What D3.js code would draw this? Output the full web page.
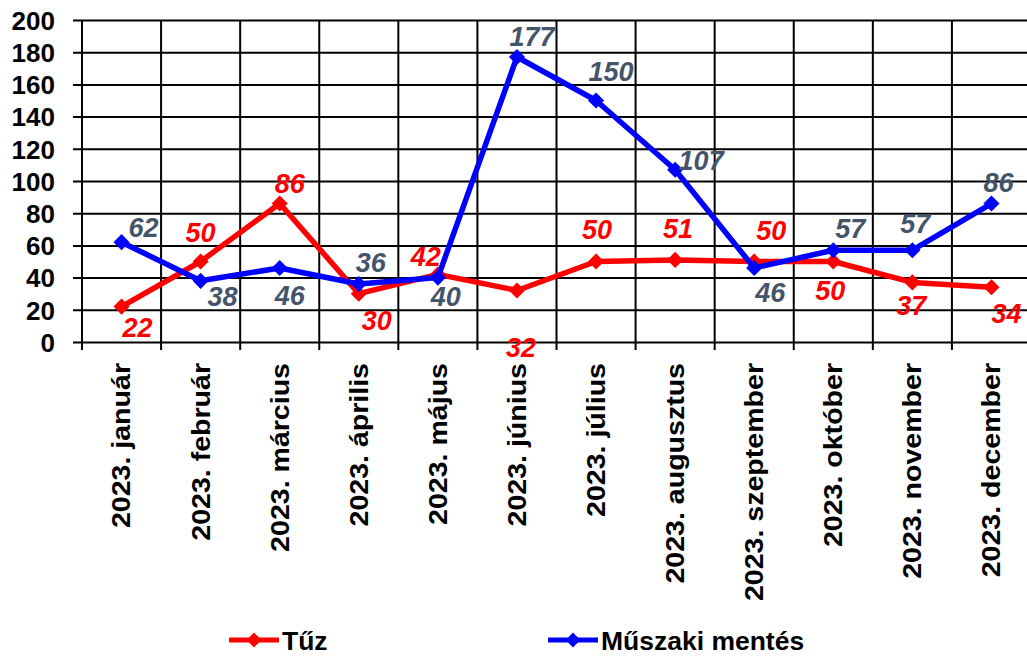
<!DOCTYPE html>
<html>
<head>
<meta charset="utf-8">
<script src="https://cdn.jsdelivr.net/npm/d3@7/dist/d3.min.js"></script>
<style>
  html, body { margin: 0; padding: 0; background: #fff; }
  svg { display: block; }
  text { font-family: "Liberation Sans", Arial, sans-serif; }
</style>
</head>
<body>
<svg id="chart" width="1027" height="657"></svg>
<script>
// ---- data ----
const categories = ["2023. január", "2023. február", "2023. március", "2023. április", "2023. május", "2023. június",
  "2023. július", "2023. augusztus", "2023. szeptember", "2023. október", "2023. november", "2023. december"];
const tuzValues = [22, 50, 86, 30, 42, 32, 50, 51, 50, 50, 37, 34];
const muszakiValues = [62, 38, 46, 36, 40, 177, 150, 107, 46, 57, 57, 86];
const yTicks = [0, 20, 40, 60, 80, 100, 120, 140, 160, 180, 200];
const seriesNames = ["Tűz", "Műszaki mentés"];

// ---- layout (label offsets relative to each point: [dx, dy] of text baseline centre) ----
const tuzLabelOffsets = [[16, 30], [0, -20], [10, -11], [18, 36], [-12, -8], [4, 67],
  [1, -23], [3, -22], [17, -22], [-3, 38], [-1, 33], [15, 36]];
const muszakiLabelOffsets = [[22, -5], [22, 25], [10, 37], [12, -12], [8, 28], [15, -11],
  [15, -20], [26, 0], [16, 34], [17, -12], [3, -17], [7, -12]];

const svg = d3.select("#chart");
const plotLeft = 82, plotRight = 1031, plotTop = 20, plotBottom = 342;

const x = d3.scaleBand().domain(categories).range([plotLeft, plotRight]).padding(0);
const y = d3.scaleLinear().domain([0, 200]).range([plotBottom, plotTop]);

// horizontal grid + y tick labels
const yAxis = d3.axisLeft(y).tickValues(yTicks).tickSize(plotRight - 73).tickPadding(18).tickFormat(d3.format("d"));
const gy = svg.append("g").attr("transform", `translate(${plotRight},0)`).call(yAxis);
gy.select(".domain").remove();
gy.selectAll(".tick line").attr("stroke", "#000").attr("stroke-width", 2);
gy.selectAll(".tick text")
  .attr("fill", "#000")
  .style("font-size", "26px")
  .style("font-weight", "bold")
  .attr("dy", "0.36em");

// vertical grid lines at band boundaries
const bounds = categories.map(c => x(c)).concat([x(categories[categories.length - 1]) + x.bandwidth()]);
svg.append("g").selectAll("line").data(bounds).join("line")
  .attr("x1", d => d).attr("x2", d => d)
  .attr("y1", plotTop).attr("y2", plotBottom + 8)
  .attr("stroke", "#000").attr("stroke-width", 2);

// category labels
const xAxis = d3.axisBottom(x).tickSize(0);
const gx = svg.append("g").attr("transform", `translate(0,${plotBottom})`).call(xAxis);
gx.select(".domain").remove();
gx.selectAll(".tick text")
  .attr("fill", "#000")
  .attr("x", 0).attr("y", 0).attr("dy", "0.35em")
  .attr("text-anchor", "end")
  .attr("transform", "translate(0,21) rotate(-90) scale(1.12,1)")
  .style("font-size", "25.5px")
  .style("font-weight", "bold");

// series
const series = [
  { name: seriesNames[0], values: tuzValues, color: "#FF0000", labelColor: "#FF0000", offsets: tuzLabelOffsets },
  { name: seriesNames[1], values: muszakiValues, color: "#0000FF", labelColor: "#44546A", offsets: muszakiLabelOffsets }
];
const cx = i => x(categories[i]) + x.bandwidth() / 2;
const line = d3.line().x((d, i) => cx(i)).y(d => y(d));
const diamond = d3.symbol(d3.symbolSquare, 130);

series.forEach(s => {
  svg.append("path").datum(s.values)
    .attr("d", line)
    .attr("fill", "none").attr("stroke", s.color).attr("stroke-width", 5.5)
    .attr("stroke-linejoin", "round");
  svg.append("g").selectAll("path").data(s.values).join("path")
    .attr("d", diamond)
    .attr("transform", (d, i) => `translate(${cx(i)},${y(d)}) rotate(45)`)
    .attr("fill", s.color);
});
series.forEach(s => {
  svg.append("g").selectAll("text").data(s.values).join("text")
    .attr("x", (d, i) => cx(i) + s.offsets[i][0])
    .attr("y", (d, i) => y(d) + s.offsets[i][1])
    .attr("text-anchor", "middle")
    .attr("fill", s.labelColor)
    .style("font-size", "27px")
    .style("font-weight", "bold")
    .style("font-style", "italic")
    .text(d => d);
});

// legend
const legendX = [229, 548];
const legend = svg.append("g").selectAll("g").data(series).join("g")
  .attr("transform", (d, i) => `translate(${legendX[i]},640)`);
legend.append("line").attr("x1", 0).attr("x2", 50).attr("y1", 0).attr("y2", 0)
  .attr("stroke", d => d.color).attr("stroke-width", 5);
legend.append("path").attr("d", d3.symbol(d3.symbolSquare, 110)).attr("transform", "translate(25,0) rotate(45)")
  .attr("fill", d => d.color);
legend.append("text")
  .attr("transform", "translate(53,10) scale(1.06,1)")
  .attr("fill", "#000")
  .style("font-size", "25px")
  .style("font-weight", "bold")
  .text(d => d.name);
</script>
</body>
</html>
